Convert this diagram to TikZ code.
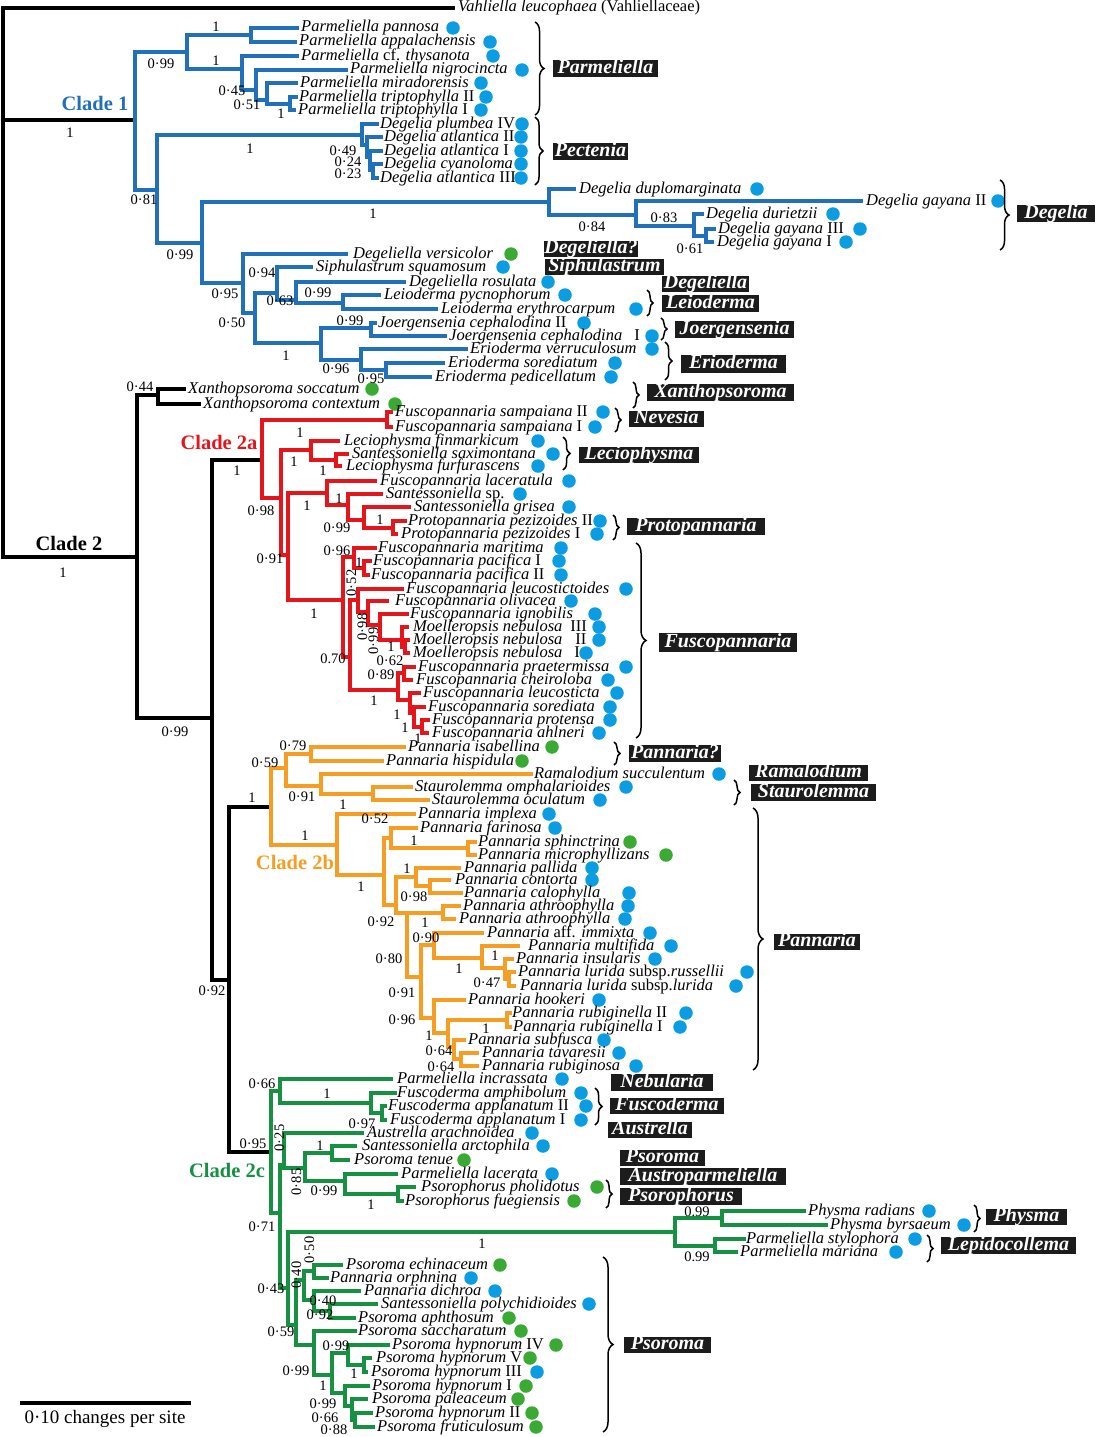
\documentclass[tikz,border=0pt]{standalone}
\usepackage{fontspec}
\setmainfont{Liberation Serif}
\usetikzlibrary{decorations.pathreplacing}
\definecolor{cA}{RGB}{33,113,186}
\definecolor{cR}{RGB}{228,22,28}
\definecolor{cO}{RGB}{245,158,35}
\definecolor{cG}{RGB}{22,145,66}
\definecolor{dB}{RGB}{12,156,226}
\definecolor{dG}{RGB}{58,170,53}
\definecolor{bx}{RGB}{28,28,28}
\newcommand\Rn[1]{\textup{#1}}
\newcounter{svc}
\newcommand\Lf[7]{\coordinate (#1) at (#2,#3);\node[lab] (#1t) at (#4,#3) {#5};\node[#7] (#1d) at (#6,#3) {};}
\newcommand\Nd[3]{\coordinate (#1) at (#2,#3);}
\newcommand\Cl[3]{\draw[br] (#2) -- (#1|-#2) -- (#1|-#3) -- (#3);}
\newcommand\Sv[3]{\stepcounter{svc}\node[sup] (sv\arabic{svc}) at (#1,#2) {#3};}
\newcommand\Svr[3]{\stepcounter{svc}\node[sup,rotate=90] (sv\arabic{svc}) at (#1,#2) {#3};}
\newcommand\Gb[6]{\node[gbox,minimum width={(#4-#2)*1pt},minimum height={(#5-#3)*1pt}] (#1) at ({(#2+#4)/2},{(#3+#5)/2}) {#6};}
\newcommand\Bc[4]{\draw[brc=#4] (#1,#2) -- (#1,#3);}
\tikzset{
 br/.style={line width=3.6pt, line join=miter, line cap=rect},
 lab/.style={anchor=west, inner sep=0pt, text height=11.5pt, text depth=3.5pt, font=\fontsize{16.5}{16.5}\selectfont\itshape},
 sup/.style={inner sep=0pt, text height=10pt, text depth=0pt, font=\fontsize{14.5}{14.5}\selectfont},
 bd/.style={circle, fill=dB, minimum size=13.5pt, inner sep=0pt},
 gd/.style={circle, fill=dG, minimum size=13.5pt, inner sep=0pt},
 gbox/.style={fill=bx, text=white, inner sep=0pt, text height=13pt, text depth=3.5pt, font=\fontsize{20}{20}\selectfont\bfseries\itshape},
 brc/.style={decorate, decoration={brace, amplitude=#1}, line width=1.5pt},
 brc/.default=7,
 clab/.style={inner sep=0pt, font=\fontsize{20.5}{20.5}\selectfont\bfseries},
}
\begin{document}
\begin{tikzpicture}[x=1pt,y=-1pt]
\useasboundingbox[fill=white] (0,0) rectangle (1095,1437);
% ---------- root ----------
\Nd{root}{3}{300}
\coordinate (vahl) at (453,8);
\node[lab] (vahlt) at (458,8) {Vahliella leucophaea\Rn{\ (Vahliellaceae)}};
% ---------- Clade 1 internal ----------
\Nd{C1}{135}{120}\Nd{A}{187}{52}\Nd{B}{251}{35}\Nd{C}{242}{69}\Nd{D}{256}{90}\Nd{E}{267}{100}\Nd{F}{290}{104}
\Nd{G}{157}{190}\Nd{P}{362}{135}\Nd{P2}{367}{145}\Nd{P3}{370}{157}\Nd{P4}{373}{170}
\Nd{H}{202}{243}\Nd{Dg}{549}{202}\Nd{Dg2}{636}{215}\Nd{Dg3}{694}{226}\Nd{Dg4}{706}{236}
\Nd{I}{243}{283}\Nd{I2}{255}{313}\Nd{J}{277}{293}\Nd{K}{296}{300}\Nd{L}{343}{303}
\Nd{M}{321}{343}\Nd{N}{371}{328}\Nd{O}{361}{360}\Nd{Pn}{386}{370}
% ---------- Clade 1 leaves ----------
\Lf{ppan}{297}{28}{301}{Parmeliella pannosa}{453}{bd}
\Lf{papp}{295}{42}{299}{Parmeliella appalachensis}{490}{bd}
\Lf{pthy}{297}{56}{301}{Parmeliella \Rn{cf.} thysanota}{493}{bd}
\Lf{pnig}{346}{70}{350}{Parmeliella nigrocincta}{522}{bd}
\Lf{pmir}{296}{83}{300}{Parmeliella miradorensis}{481}{bd}
\Lf{ptr2}{296}{97}{299}{Parmeliella triptophylla \Rn{II}}{486}{bd}
\Lf{ptr1}{294}{110}{298}{Parmeliella triptophylla \Rn{I}}{481}{bd}
\Lf{dplu}{377}{124}{380}{Degelia plumbea \Rn{IV}}{522}{bd}
\Lf{datl2}{381}{137}{384}{Degelia atlantica \Rn{II}}{521}{bd}
\Lf{datl1}{381}{151}{384}{Degelia atlantica \Rn{I}}{521}{bd}
\Lf{dcya}{381}{164}{384}{Degelia cyanoloma}{521}{bd}
\Lf{datl3}{377}{178}{380}{Degelia atlantica \Rn{III}}{521}{bd}
\Lf{ddup}{574}{189}{579}{Degelia duplomarginata}{757}{bd}
\Lf{dgay2}{861}{201}{866}{Degelia gayana \Rn{II}}{998}{bd}
\Lf{dduri}{702}{214}{706}{Degelia durietzii}{833}{bd}
\Lf{dgay3}{714}{229}{718}{Degelia gayana \Rn{III}}{860}{bd}
\Lf{dgay1}{712}{242}{717}{Degelia gayana \Rn{I}}{846}{bd}
\Lf{dver}{346}{254}{353}{Degeliella versicolor}{511}{gd}
\Lf{ssqu}{311}{267}{316}{Siphulastrum squamosum}{503}{bd}
\Lf{dros}{404}{282}{409}{Degeliella rosulata}{548}{bd}
\Lf{lpyc}{379}{295}{384}{Leioderma pycnophorum}{565}{bd}
\Lf{lery}{436}{309}{441}{Leioderma erythrocarpum}{636}{bd}
\Lf{jc2}{375}{323}{378}{Joergensenia cephalodina \Rn{II}}{584}{bd}
\Lf{jc1}{445}{336}{449}{Joergensenia cephalodina\hspace{12pt}\Rn{I}}{652}{bd}
\Lf{ever}{466}{349}{470}{Erioderma verruculosum}{652}{bd}
\Lf{esor}{443}{363}{448}{Erioderma sorediatum}{615}{bd}
\Lf{eped}{430}{377}{435}{Erioderma pedicellatum}{611}{bd}
% ---------- Clade 2 internal ----------
\Nd{Q}{137}{557}\Nd{Xn}{158}{395}\Nd{R}{212}{718}\Nd{A2}{262}{460}\Nd{S}{229}{980}
\Nd{Sm}{387}{420}\Nd{U}{281}{498}\Nd{V}{311}{450}\Nd{V2}{336}{460}\Nd{W}{288}{555}
\Nd{X}{327}{493}\Nd{X2}{348}{505}\Nd{X3}{364}{520}\Nd{X4}{393}{528}
\Nd{Y}{343}{600}\Nd{Z}{354}{557}\Nd{Z2}{364}{568}\Nd{AB}{350}{657}\Nd{AC}{358}{600}
\Nd{AE}{368}{612}\Nd{AF}{380}{625}\Nd{AG}{402}{640}\Nd{AH}{405}{647}
\Nd{AD}{398}{690}\Nd{AI}{404}{673}\Nd{AJ}{410}{700}\Nd{AK}{414}{713}\Nd{AL}{422}{727}
\Nd{B2}{271}{807}\Nd{BA}{286}{768}\Nd{BB}{311}{754}\Nd{BC}{321}{786}\Nd{BD}{373}{794}
\Nd{BE}{337}{845}\Nd{BF}{384}{875}\Nd{BG}{391}{838}\Nd{BH}{468}{848}\Nd{BI}{396}{905}
\Nd{BJ}{416}{877}\Nd{BL}{430}{886}\Nd{BM}{407}{913}\Nd{BN}{443}{913}\Nd{BQ}{421}{977}
\Nd{BR}{434}{945}\Nd{BT2}{482}{958}\Nd{BU2}{505}{968}\Nd{BV2}{509}{979}
\Nd{BS}{434}{1018}\Nd{BT}{448}{1033}\Nd{Rb}{507}{1020}\Nd{BU}{454}{1047}\Nd{BV}{461}{1059}
\Nd{CA}{271}{1152}\Nd{CB}{280}{1091}\Nd{CD}{371}{1103}\Nd{CE}{382}{1113}
\Nd{CF}{280}{1213}\Nd{CG}{284}{1165}\Nd{CI}{305}{1168}\Nd{CJ}{332}{1153}\Nd{CK}{345}{1181}\Nd{CL}{398}{1194}
\Nd{CH}{288}{1288}\Nd{PH}{675}{1232}\Nd{PR}{722}{1218}\Nd{PL}{715}{1246}
\Nd{CM}{296}{1325}\Nd{CN}{304}{1280}\Nd{CO}{314}{1271}\Nd{CP}{314}{1300}\Nd{CQ}{330}{1311}
\Nd{CR}{314}{1345}\Nd{CS}{332}{1375}\Nd{CT}{348}{1353}\Nd{CV}{364}{1365}\Nd{CU}{345}{1393}\Nd{CW}{352}{1406}\Nd{CX}{355}{1420}
% ---------- Clade 2 leaves ----------
\Lf{xsoc}{184}{389}{188}{Xanthopsoroma soccatum}{372}{gd}
\Lf{xcon}{199}{404}{203}{Xanthopsoroma contextum}{395}{gd}
\Lf{samp2}{391}{412}{395}{Fuscopannaria sampaiana \Rn{II}}{603}{bd}
\Lf{samp1}{391}{427}{395}{Fuscopannaria sampaiana \Rn{I}}{595}{bd}
\Lf{finm}{338}{441}{344}{Leciophysma finmarkicum}{538}{bd}
\Lf{saxi}{347}{454}{352}{Santessoniella saximontana}{553}{bd}
\Lf{furf}{340}{466}{346}{Leciophysma furfurascens}{538}{bd}
\Lf{lacr}{375}{481}{380}{Fuscopannaria laceratula}{569}{bd}
\Lf{ssp}{381}{494}{386}{Santessoniella \Rn{sp.}}{520}{bd}
\Lf{sgri}{409}{507}{414}{Santessoniella grisea}{569}{bd}
\Lf{pez2}{405}{521}{408}{Protopannaria pezizoides \Rn{II}}{600}{bd}
\Lf{pez1}{396}{534}{401}{Protopannaria pezizoides \Rn{I}}{597}{bd}
\Lf{mari}{375}{548}{378}{Fuscopannaria maritima}{561}{bd}
\Lf{pac1}{370}{561}{373}{Fuscopannaria pacifica \Rn{I}}{559}{bd}
\Lf{pac2}{368}{575}{371}{Fuscopannaria pacifica \Rn{II}}{561}{bd}
\Lf{lstd}{402}{589}{406}{Fuscopannaria leucostictoides}{626}{bd}
\Lf{oliv}{387}{601}{395}{Fuscopannaria olivacea}{571}{bd}
\Lf{igno}{407}{614}{410}{Fuscopannaria ignobilis}{595}{bd}
\Lf{mn3}{407}{627}{413}{Moelleropsis nebulosa\hspace{8pt}\Rn{III}}{599}{bd}
\Lf{mn2}{408}{640}{413}{Moelleropsis nebulosa\hspace{13pt}\Rn{II}}{599}{bd}
\Lf{mn1}{408}{653}{413}{Moelleropsis nebulosa\hspace{12pt}\Rn{I}}{586}{bd}
\Lf{prae}{414}{667}{418}{Fuscopannaria praetermissa}{626}{bd}
\Lf{chei}{411}{680}{416}{Fuscopannaria cheiroloba}{608}{bd}
\Lf{leuc}{419}{693}{423}{Fuscopannaria leucosticta}{617}{bd}
\Lf{sore}{424}{707}{428}{Fuscopannaria sorediata}{610}{bd}
\Lf{prot}{428}{720}{432}{Fuscopannaria protensa}{610}{bd}
\Lf{ahln}{427}{733}{432}{Fuscopannaria ahlneri}{599}{bd}
\Lf{pisa}{404}{747}{408}{Pannaria isabellina}{552}{gd}
\Lf{phis}{382}{761}{386}{Pannaria hispidula}{522}{gd}
\Lf{rama}{531}{774}{534}{Ramalodium succulentum}{719}{bd}
\Lf{omph}{411}{787}{415}{Staurolemma omphalarioides}{626}{bd}
\Lf{ocul}{428}{800}{432}{Staurolemma oculatum}{600}{bd}
\Lf{impl}{414}{814}{418}{Pannaria implexa}{549}{bd}
\Lf{pfar}{416}{828}{420}{Pannaria farinosa}{555}{bd}
\Lf{psph}{475}{842}{478}{Pannaria sphinctrina}{630}{gd}
\Lf{pmic}{475}{855}{478}{Pannaria microphyllizans}{666}{gd}
\Lf{ppal}{459}{868}{464}{Pannaria pallida}{592}{bd}
\Lf{pcon}{449}{880}{455}{Pannaria contorta}{592}{bd}
\Lf{pcal}{461}{893}{464}{Pannaria calophylla}{629}{bd}
\Lf{path1}{459}{906}{463}{Pannaria athroophylla}{628}{bd}
\Lf{path2}{454}{919}{459}{Pannaria athroophylla}{625}{bd}
\Lf{pimm}{482}{933}{487}{Pannaria \Rn{aff.} immixta}{650}{bd}
\Lf{pmul}{518}{946}{528}{Pannaria multifida}{671}{bd}
\Lf{pins}{512}{959}{516}{Pannaria insularis}{655}{bd}
\Lf{prus}{514}{972}{518}{Pannaria lurida \Rn{subsp.}russellii}{747}{bd}
\Lf{plur}{514}{986}{520}{Pannaria lurida \Rn{subsp.}lurida}{736}{bd}
\Lf{phoo}{464}{1000}{468}{Pannaria hookeri}{599}{bd}
\Lf{prub2}{510}{1013}{512}{Pannaria rubiginella \Rn{II}}{686}{bd}
\Lf{prub1}{510}{1027}{513}{Pannaria rubiginella \Rn{I}}{680}{bd}
\Lf{psub}{464}{1040}{468}{Pannaria subfusca}{604}{bd}
\Lf{ptav}{477}{1053}{482}{Pannaria tavaresii}{619}{bd}
\Lf{prubs}{477}{1066}{482}{Pannaria rubiginosa}{636}{bd}
\Lf{pinc}{391}{1079}{397}{Parmeliella incrassata}{562}{bd}
\Lf{famp}{395}{1093}{397}{Fuscoderma amphibolum}{581}{bd}
\Lf{fap2}{385}{1106}{388}{Fuscoderma applanatum \Rn{II}}{586}{bd}
\Lf{fap1}{385}{1120}{390}{Fuscoderma applanatum \Rn{I}}{581}{bd}
\Lf{aust}{362}{1133}{367}{Austrella arachnoidea}{532}{bd}
\Lf{sarc}{355}{1146}{362}{Santessoniella arctophila}{543}{bd}
\Lf{ptnu}{348}{1160}{354}{Psoroma tenue}{464}{gd}
\Lf{plac}{396}{1174}{401}{Parmeliella lacerata}{552}{bd}
\Lf{phol}{414}{1187}{421}{Psorophorus pholidotus}{597}{gd}
\Lf{fueg}{402}{1201}{405}{Psorophorus fuegiensis}{574}{gd}
\Lf{prad}{804}{1211}{808}{Physma radians}{929}{bd}
\Lf{pbyr}{826}{1225}{830}{Physma byrsaeum}{964}{bd}
\Lf{psty}{744}{1239}{746}{Parmeliella stylophora}{915}{bd}
\Lf{pmar}{736}{1252}{740}{Parmeliella mariana}{896}{bd}
\Lf{echi}{341}{1265}{346}{Psoroma echinaceum}{500}{gd}
\Lf{orph}{327}{1278}{330}{Pannaria orphnina}{471}{bd}
\Lf{dich}{359}{1291}{364}{Pannaria dichroa}{495}{bd}
\Lf{poly}{376}{1304}{381}{Santessoniella polychidioides}{589}{bd}
\Lf{apht}{354}{1318}{358}{Psoroma aphthosum}{509}{gd}
\Lf{sacc}{355}{1331}{358}{Psoroma saccharatum}{521}{gd}
\Lf{hyp4}{388}{1345}{392}{Psoroma hypnorum \Rn{IV}}{556}{gd}
\Lf{hyp5}{370}{1358}{376}{Psoroma hypnorum \Rn{V}}{530}{gd}
\Lf{hyp3}{366}{1372}{371}{Psoroma hypnorum \Rn{III}}{537}{bd}
\Lf{hyp1}{368}{1386}{372}{Psoroma hypnorum \Rn{I}}{526}{gd}
\Lf{pale}{366}{1399}{372}{Psoroma paleaceum}{518}{gd}
\Lf{hyp2}{371}{1413}{375}{Psoroma hypnorum \Rn{II}}{532}{gd}
\Lf{frut}{373}{1427}{377}{Psoroma fruticulosum}{536}{gd}
% ---------- black backbone ----------
\draw[br] (vahl) -- (root|-vahl) -- (root|-Q) -- (Q);
\draw[br] (root|-C1) -- (C1);
\Cl{Q}{Xn}{R}\Cl{Xn}{xsoc}{xcon}\Cl{R}{A2}{S}\Cl{S}{B2}{CA}
% ---------- Clade 1 (blue) ----------
\begin{scope}[color=cA]
\Cl{C1}{A}{G}\Cl{A}{B}{C}\Cl{B}{ppan}{papp}\Cl{C}{pthy}{D}\Cl{D}{pnig}{E}\Cl{E}{pmir}{F}\Cl{F}{ptr2}{ptr1}
\Cl{G}{P}{H}\Cl{P}{dplu}{P2}\Cl{P2}{datl2}{P3}\Cl{P3}{datl1}{P4}\Cl{P4}{dcya}{datl3}
\Cl{H}{Dg}{I}\Cl{Dg}{ddup}{Dg2}\Cl{Dg2}{dgay2}{Dg3}\Cl{Dg3}{dduri}{Dg4}\Cl{Dg4}{dgay3}{dgay1}
\Cl{I}{dver}{I2}\Cl{I2}{J}{M}\Cl{J}{ssqu}{K}\Cl{K}{dros}{L}\Cl{L}{lpyc}{lery}
\Cl{M}{N}{O}\Cl{N}{jc2}{jc1}\Cl{O}{ever}{Pn}\Cl{Pn}{esor}{eped}
\end{scope}
% ---------- Clade 2a (red) ----------
\begin{scope}[color=cR]
\Cl{A2}{Sm}{U}\Cl{Sm}{samp2}{samp1}\Cl{U}{V}{W}\Cl{V}{finm}{V2}\Cl{V2}{saxi}{furf}
\Cl{W}{X}{Y}\Cl{X}{lacr}{X2}\Cl{X2}{ssp}{X3}\Cl{X3}{sgri}{X4}\Cl{X4}{pez2}{pez1}
\Cl{Y}{Z}{AB}\Cl{Z}{mari}{Z2}\Cl{Z2}{pac1}{pac2}
\Cl{AB}{AC}{AD}\Cl{AC}{lstd}{AE}\Cl{AE}{oliv}{AF}\Cl{AF}{igno}{AG}\Cl{AG}{mn3}{AH}\Cl{AH}{mn2}{mn1}
\Cl{AD}{AI}{AJ}\Cl{AI}{prae}{chei}\Cl{AJ}{leuc}{AK}\Cl{AK}{sore}{AL}\Cl{AL}{prot}{ahln}
\end{scope}
% ---------- Clade 2b (orange) ----------
\begin{scope}[color=cO]
\Cl{B2}{BA}{BE}\Cl{BA}{BB}{BC}\Cl{BB}{pisa}{phis}\Cl{BC}{rama}{BD}\Cl{BD}{omph}{ocul}
\Cl{BE}{impl}{BF}\Cl{BF}{BG}{BI}\Cl{BG}{pfar}{BH}\Cl{BH}{psph}{pmic}
\Cl{BI}{BJ}{BM}\Cl{BJ}{ppal}{BL}\Cl{BL}{pcon}{pcal}
\Cl{BM}{BN}{BQ}\Cl{BN}{path1}{path2}\Cl{BQ}{BR}{BS}
\Cl{BR}{pimm}{BT2}\Cl{BT2}{pmul}{BU2}\Cl{BU2}{pins}{BV2}\Cl{BV2}{prus}{plur}
\Cl{BS}{phoo}{BT}\Cl{BT}{Rb}{BU}\Cl{Rb}{prub2}{prub1}\Cl{BU}{psub}{BV}\Cl{BV}{ptav}{prubs}
\end{scope}
% ---------- Clade 2c (green) ----------
\begin{scope}[color=cG]
\Cl{CA}{CB}{CF}\Cl{CB}{pinc}{CD}\Cl{CD}{famp}{CE}\Cl{CE}{fap2}{fap1}
\Cl{CF}{CG}{CH}\Cl{CG}{aust}{CI}\Cl{CI}{CJ}{CK}\Cl{CJ}{sarc}{ptnu}\Cl{CK}{plac}{CL}\Cl{CL}{phol}{fueg}
\Cl{CH}{PH}{CM}\Cl{PH}{PR}{PL}\Cl{PR}{prad}{pbyr}\Cl{PL}{psty}{pmar}
\Cl{CM}{CN}{CR}\Cl{CN}{CO}{CP}\Cl{CO}{echi}{orph}\Cl{CP}{dich}{CQ}\Cl{CQ}{poly}{apht}
\Cl{CR}{sacc}{CS}\Cl{CS}{CT}{CU}\Cl{CT}{hyp4}{CV}\Cl{CV}{hyp5}{hyp3}
\Cl{CU}{hyp1}{CW}\Cl{CW}{pale}{CX}\Cl{CX}{hyp2}{frut}
\end{scope}
% ---------- clade labels ----------
\node[clab,text=cA] (lc1) at (95,103) {Clade 1};
\node[clab] (lc2) at (69,543) {Clade 2};
\node[clab,text=cR] (lc2a) at (219,442) {Clade 2a};
\node[clab,text=cO] (lc2b) at (295,862) {Clade 2b};
\node[clab,text=cG] (lc2c) at (227,1170) {Clade 2c};
% ---------- support values ----------
\Sv{70}{132}{1}\Sv{161}{63}{0·99}\Sv{216}{27}{1}\Sv{216}{61}{1}\Sv{232}{90}{0·45}\Sv{247}{104}{0·51}\Sv{281}{113}{1}
\Sv{144}{199}{0·81}\Sv{250}{148}{1}\Sv{343}{150}{0·49}\Sv{348}{161}{0·24}\Sv{348}{173}{0·23}
\Sv{373}{213}{1}\Sv{592}{226}{0·84}\Sv{664}{217}{0·83}\Sv{690}{248}{0·61}
\Sv{180}{254}{0·99}\Sv{225}{293}{0·95}\Sv{262}{272}{0·94}\Sv{232}{322}{0·50}\Sv{280}{300}{0·63}\Sv{318}{292}{0·99}
\Sv{286}{355}{1}\Sv{350}{320}{0·99}\Sv{336}{368}{0·96}\Sv{371}{378}{0·95}
\Sv{63}{572}{1}\Sv{140}{386}{0·44}\Sv{175}{731}{0·99}\Sv{237}{470}{1}\Sv{300}{432}{1}\Sv{261}{510}{0·98}
\Sv{294}{461}{1}\Sv{323}{470}{1}\Sv{270}{558}{0·91}\Sv{307}{505}{1}\Sv{339}{498}{1}\Sv{337}{527}{0·99}\Sv{380}{519}{1}
\Sv{314}{613}{1}\Sv{337}{550}{0·96}\Sv{359}{562}{1}
\Svr{351}{583}{0·52}\Svr{362}{627}{0·98}\Svr{373}{641}{0·99}\Sv{391}{646}{1}\Sv{390}{660}{0·62}
\Sv{333}{658}{0.70}\Sv{381}{674}{0·89}\Sv{374}{700}{1}\Sv{397}{714}{1}\Sv{405}{727}{1}\Sv{418}{738}{1}
\Sv{212}{990}{0·92}\Sv{252}{797}{1}\Sv{265}{762}{0·59}\Sv{293}{745}{0·79}\Sv{302}{796}{0·91}\Sv{343}{804}{1}
\Sv{305}{835}{1}\Sv{361}{886}{1}\Sv{375}{818}{0·52}\Sv{414}{840}{1}\Sv{407}{868}{1}\Sv{414}{896}{0·98}
\Sv{381}{921}{0·92}\Sv{425}{922}{1}\Sv{426}{937}{0·90}\Sv{389}{958}{0·80}\Sv{459}{968}{1}\Sv{495}{955}{1}\Sv{487}{982}{0·47}
\Sv{402}{992}{0·91}\Sv{402}{1019}{0·96}\Sv{429}{1035}{1}\Sv{486}{1028}{1}\Sv{439}{1050}{0·64}\Sv{441}{1066}{0·64}
\Sv{253}{1143}{0·95}\Sv{262}{1083}{0·66}\Sv{327}{1093}{1}\Sv{362}{1123}{0·97}
\Svr{279}{1138}{0·25}\Svr{296}{1182}{0·85}\Sv{320}{1145}{1}\Sv{324}{1190}{0·99}\Sv{371}{1204}{1}
\Sv{262}{1226}{0·71}\Sv{697}{1211}{0.99}\Sv{697}{1256}{0.99}\Sv{482}{1243}{1}\Sv{271}{1288}{0·43}
\Svr{296}{1275}{0·40}\Svr{309}{1250}{0·50}\Sv{323}{1300}{0·40}\Sv{320}{1314}{0·92}
\Sv{281}{1331}{0·59}\Sv{296}{1370}{0·99}\Sv{336}{1345}{0·99}\Sv{354}{1373}{1}\Sv{323}{1385}{1}
\Sv{323}{1403}{0·99}\Sv{325}{1417}{0·66}\Sv{334}{1429}{0·88}
% ---------- braces ----------
\Bc{535}{22}{115}{9}\Bc{535}{117}{185}{8}\Bc{1000}{180}{250}{9}\Bc{647}{290}{316}{6}\Bc{661}{318}{340}{6}
\Bc{665}{342}{380}{7}\Bc{633}{382}{408}{6}\Bc{615}{408}{432}{6}\Bc{563}{437}{470}{7}\Bc{613}{515}{540}{6}
\Bc{636}{543}{738}{10}\Bc{614}{742}{765}{6}\Bc{734}{780}{805}{6}\Bc{753}{808}{1070}{10}\Bc{595}{1088}{1125}{7}
\Bc{606}{1180}{1208}{6}\Bc{974}{1205}{1232}{6}\Bc{927}{1235}{1262}{6}\Bc{603}{1257}{1432}{10}
% ---------- genus boxes ----------
\Gb{gParm}{553}{60}{658}{77}{Parmeliella}
\Gb{gPect}{553}{143}{628}{160}{Pectenia}
\Gb{gDeg}{1017}{205}{1095}{222}{Degelia}
\Gb{gDq}{545}{241}{637}{257}{Degeliella?}
\Gb{gSiph}{545}{259}{664}{275}{Siphulastrum}
\Gb{gDgl}{662}{276}{749}{292}{Degeliella}
\Gb{gLeio}{662}{295}{759}{312}{Leioderma}
\Gb{gJoe}{675}{321}{794}{338}{Joergensenia}
\Gb{gEri}{681}{355}{786}{373}{Erioderma}
\Gb{gXan}{647}{384}{794}{401}{Xanthopsoroma}
\Gb{gNev}{629}{411}{704}{427}{Nevesia}
\Gb{gLec}{579}{447}{699}{463}{Leciophysma}
\Gb{gPro}{627}{518}{765}{535}{Protopannaria}
\Gb{gFus}{659}{633}{797}{652}{Fuscopannaria}
\Gb{gPq}{629}{745}{721}{762}{Pannaria?}
\Gb{gRam}{749}{765}{868}{781}{Ramalodium}
\Gb{gSta}{751}{784}{876}{801}{Staurolemma}
\Gb{gPan}{774}{934}{860}{950}{Pannaria}
\Gb{gNeb}{611}{1074}{713}{1091}{Nebularia}
\Gb{gFd}{610}{1098}{724}{1114}{Fuscoderma}
\Gb{gAus}{608}{1122}{692}{1138}{Austrella}
\Gb{gPs1}{620}{1150}{705}{1166}{Psoroma}
\Gb{gApm}{620}{1168}{786}{1185}{Austroparmeliella}
\Gb{gPsp}{620}{1188}{742}{1205}{Psorophorus}
\Gb{gPhy}{986}{1209}{1067}{1225}{Physma}
\Gb{gLep}{941}{1238}{1076}{1253}{Lepidocollema}
\Gb{gPs2}{624}{1337}{711}{1353}{Psoroma}
% ---------- scale bar ----------
\coordinate (sb1) at (20,1403);\coordinate (sb2) at (191,1403);
\draw[line width=3.4pt] (sb1) -- (sb2);
\node[inner sep=0pt, font=\fontsize{19}{19}\selectfont] (sbt) at (105,1419) {0·10 changes per site};
\end{tikzpicture}
\end{document}
